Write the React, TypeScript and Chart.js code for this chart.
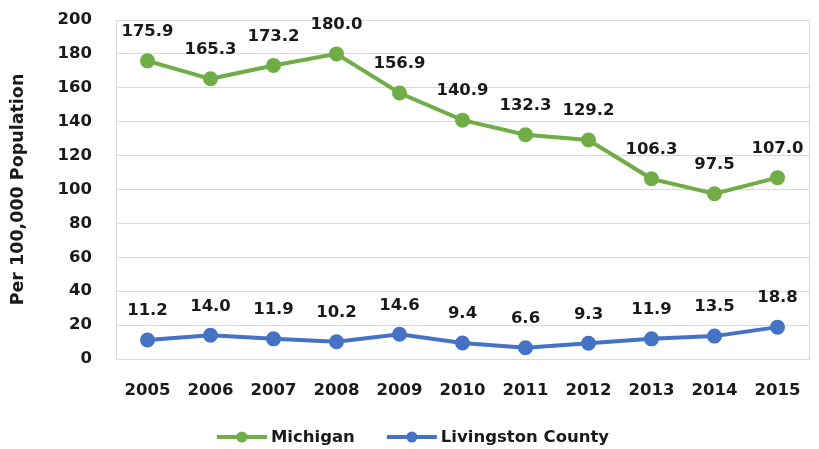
import React, { useEffect, useRef } from "react";
import { Chart, registerables } from "chart.js";

Chart.register(...registerables);

const years = ["2005", "2006", "2007", "2008", "2009", "2010", "2011", "2012", "2013", "2014", "2015"];
const michigan = [175.9, 165.3, 173.2, 180.0, 156.9, 140.9, 132.3, 129.2, 106.3, 97.5, 107.0];
const livingston = [11.2, 14.0, 11.9, 10.2, 14.6, 9.4, 6.6, 9.3, 11.9, 13.5, 18.8];
const seriesNames = ["Michigan", "Livingston County"];
const yTitle = "Per 100,000 Population";

const FONT = "'DejaVu Sans', sans-serif";
const FSIZE = 16.5;
const GREEN = "#70AD47";
const BLUE = "#4472C4";
const TEXT = "#1a1a1a";
const GRID = "#d9d9d9";

const frameAndLabelPlugin = {
  id: "valueLabels",
  beforeDatasetsDraw(chart: any) {
    const { ctx, chartArea: a } = chart;
    ctx.save();
    ctx.strokeStyle = GRID;
    ctx.lineWidth = 1;
    ctx.strokeRect(Math.round(a.left) + 0.5, Math.round(a.top) + 0.5, Math.round(a.right - a.left), Math.round(a.bottom - a.top));
    ctx.restore();
  },
  afterDatasetsDraw(chart: any) {
    const ctx = chart.ctx;
    ctx.save();
    ctx.font = `bold ${FSIZE}px ${FONT}`;
    ctx.fillStyle = TEXT;
    ctx.textAlign = "center";
    ctx.textBaseline = "middle";
    chart.data.datasets.forEach((ds: any, i: number) => {
      const meta = chart.getDatasetMeta(i);
      meta.data.forEach((pt: any, j: number) => {
        ctx.fillText(Number(ds.data[j]).toFixed(1), pt.x, pt.y - 29);
      });
    });
    ctx.restore();
  },
};

const legendPlugin = {
  id: "lineLegend",
  afterDraw(chart: any) {
    const ctx = chart.ctx;
    ctx.save();
    ctx.font = `bold ${FSIZE}px ${FONT}`;
    ctx.textBaseline = "middle";
    ctx.textAlign = "left";
    const y = 437;
    const lineLen = 50;
    const gap = 4;
    const itemGap = 32;
    const widths = chart.data.datasets.map((ds: any) => lineLen + gap + ctx.measureText(ds.label).width);
    const total = widths.reduce((a: number, b: number) => a + b, 0) + itemGap * (widths.length - 1);
    let x = 413 - total / 2;
    chart.data.datasets.forEach((ds: any, i: number) => {
      ctx.strokeStyle = ds.borderColor;
      ctx.lineWidth = 4;
      ctx.beginPath();
      ctx.moveTo(x, y);
      ctx.lineTo(x + lineLen, y);
      ctx.stroke();
      ctx.fillStyle = ds.borderColor;
      ctx.beginPath();
      ctx.arc(x + lineLen / 2, y, 5.5, 0, Math.PI * 2);
      ctx.fill();
      ctx.fillStyle = TEXT;
      ctx.fillText(ds.label, x + lineLen + gap, y + 1);
      x += widths[i] + itemGap;
    });
    ctx.restore();
  },
};

export default function App() {
  const ref = useRef<HTMLCanvasElement | null>(null);
  useEffect(() => {
    if (!ref.current) return;
    const tickFont = { family: FONT, size: FSIZE, weight: "bold" };
    const chart = new Chart(ref.current, {
      type: "line",
      data: {
        labels: years,
        datasets: [
          {
            label: seriesNames[0],
            data: michigan,
            borderColor: GREEN,
            backgroundColor: GREEN,
            borderWidth: 4,
            pointRadius: 5.5,
            pointHoverRadius: 5.5,
            tension: 0,
          },
          {
            label: seriesNames[1],
            data: livingston,
            borderColor: BLUE,
            backgroundColor: BLUE,
            borderWidth: 4,
            pointRadius: 5.5,
            pointHoverRadius: 5.5,
            tension: 0,
          },
        ],
      },
      options: {
        animation: false,
        responsive: false,
        maintainAspectRatio: false,
        layout: { padding: { top: 20, right: 10, left: 0, bottom: 0 } },
        plugins: {
          legend: { display: false },
          tooltip: { enabled: false },
        },
        scales: {
          x: {
            offset: true,
            grid: { display: false, drawTicks: false },
            border: { display: false },
            ticks: { padding: 22, color: TEXT, font: tickFont },
            afterFit(scale: any) {
              scale.height = 90;
              scale.paddingLeft = 0;
              scale.paddingRight = 0;
            },
          },
          y: {
            min: 0,
            max: 200,
            ticks: { stepSize: 20, padding: 24, color: TEXT, font: tickFont },
            grid: { color: GRID, drawTicks: false },
            border: { display: false },
            title: {
              display: true,
              text: yTitle,
              color: TEXT,
              font: { family: FONT, size: 17.5, weight: "bold" },
              padding: { top: 8, bottom: 0 },
            },
            afterFit(scale: any) {
              scale.width = 116;
              scale.paddingTop = 0;
              scale.paddingBottom = 0;
            },
          },
        },
      } as any,
      plugins: [frameAndLabelPlugin, legendPlugin],
    });
    return () => chart.destroy();
  }, []);
  return (
    <div style={{ position: "fixed", left: 0, top: 0, width: 819, height: 449, background: "#fff" }}>
      <canvas ref={ref} width={819} height={449} style={{ width: 819, height: 449 }} />
    </div>
  );
}
